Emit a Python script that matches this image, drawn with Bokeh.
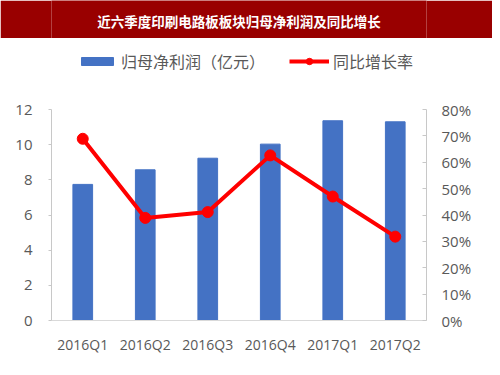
from bokeh.plotting import figure
from bokeh.models import (ColumnDataSource, FactorRange, Range1d, LinearAxis, Label,
                          Legend, LegendItem, SingleIntervalTicker, PrintfTickFormatter)
from bokeh.layouts import column
from bokeh.embed import file_html
from bokeh.resources import INLINE

title_text = "近六季度印刷电路板板块归母净利润及同比增长"
categories = ["2016Q1", "2016Q2", "2016Q3", "2016Q4", "2017Q1", "2017Q2"]
profit = [7.74, 8.57, 9.23, 10.03, 11.36, 11.30]       # 归母净利润（亿元）
growth = [68.9, 38.9, 41.1, 62.6, 47.0, 31.8]          # 同比增长率 (%)
bar_label = "归母净利润（亿元）"
line_label = "同比增长率"

CJK = "Noto Sans CJK SC"
NUM = "Open Sans"
GRAY_TXT = "#595959"
GRAY_LINE = "#C8C8C8"
W = 492
LEFT_MAX, RIGHT_MAX = 12, 80
# frame extends above the axes' top so the legend sits inside the frame
EXT = 282 / 211

# ---- title band ----
band = figure(width=W, height=38, x_range=(0, 1), y_range=(0, 1),
              output_backend="svg", toolbar_location=None,
              background_fill_color="#990000", border_fill_color="#990000",
              min_border=0)
band.outline_line_color = None
band.xaxis.visible = False
band.yaxis.visible = False
band.xgrid.visible = False
band.ygrid.visible = False
band.add_layout(Label(x=0.5, y=0.47, text=title_text, text_align="center",
                      text_baseline="middle", text_color="white",
                      text_font=CJK, text_font_style="bold", text_font_size="13.5px"))

# ---- main chart ----
src = ColumnDataSource(dict(cat=categories, profit=profit, growth=growth))

p = figure(width=W, height=329, x_range=FactorRange(*categories),
           y_range=Range1d(0, LEFT_MAX * EXT),
           output_backend="svg", toolbar_location=None,
           min_border_left=51, min_border_right=66, min_border_top=0, min_border_bottom=47)
p.outline_line_color = None
p.xgrid.visible = False
p.ygrid.visible = False
p.extra_y_ranges = {"pct": Range1d(0, RIGHT_MAX * EXT)}

bars = p.vbar(x="cat", top="profit", width=0.315, source=src,
              fill_color="#4472C4", line_color="#4472C4")
ln = p.line(x="cat", y="growth", source=src, y_range_name="pct",
            line_color="#FF0000", line_width=4)
pts = p.scatter(x="cat", y="growth", source=src, y_range_name="pct",
                size=11, fill_color="#FF0000", line_color="#FF0000")

# left axis
ax = p.yaxis[0]
ax.ticker = SingleIntervalTicker(interval=2)
ax.bounds = (0, LEFT_MAX)
ax.axis_line_color = GRAY_LINE
ax.major_tick_line_color = GRAY_LINE
ax.major_tick_out = 3
ax.major_tick_in = 0
ax.minor_tick_line_color = None
ax.major_label_text_font = NUM
ax.major_label_text_font_size = "15px"
ax.major_label_text_color = GRAY_TXT
ax.major_label_standoff = 15

# right axis
rax = LinearAxis(y_range_name="pct", ticker=SingleIntervalTicker(interval=10),
                 formatter=PrintfTickFormatter(format="%d%%"), bounds=(0, RIGHT_MAX))
rax.axis_line_color = GRAY_LINE
rax.major_tick_line_color = GRAY_LINE
rax.major_tick_in = 4
rax.major_tick_out = 0
rax.minor_tick_line_color = None
rax.major_label_text_font = NUM
rax.major_label_text_font_size = "15px"
rax.major_label_text_color = GRAY_TXT
rax.major_label_standoff = 11
p.add_layout(rax, "right")

# bottom axis
bx = p.xaxis[0]
bx.axis_line_color = "#D9D9D9"
bx.major_tick_line_color = None
bx.minor_tick_line_color = None
bx.major_label_text_font = NUM
bx.major_label_text_font_size = "14px"
bx.major_label_text_color = GRAY_TXT
bx.major_label_standoff = 8

common = dict(orientation="horizontal", glyph_width=40, label_standoff=4,
              padding=0, margin=0, border_line_color=None, background_fill_alpha=0,
              label_text_font=CJK, label_text_font_size="16px",
              label_text_color=GRAY_TXT)
legend1 = Legend(items=[LegendItem(label=bar_label, renderers=[bars])],
                 location=(26, 247), glyph_height=10, **common)
legend2 = Legend(items=[LegendItem(label=line_label, renderers=[ln, pts])],
                 location=(238, 247), glyph_height=16, **common)
p.add_layout(legend1, "center")
p.add_layout(legend2, "center")

layout = column(band, p, spacing=0)
open("out.html", "w").write(file_html(layout, INLINE))
